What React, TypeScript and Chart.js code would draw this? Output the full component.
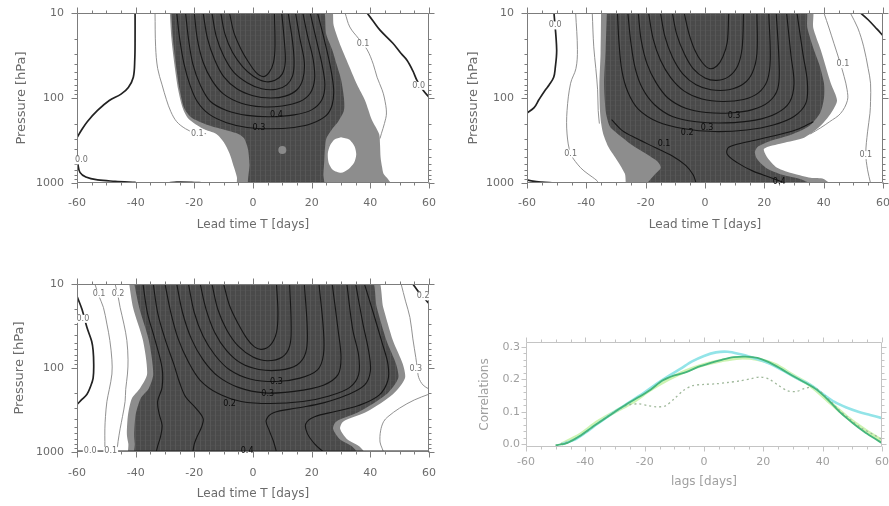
import React, { useEffect, useRef } from "react";
import { Chart, registerables } from "chart.js";

Chart.register(...registerables);

type Pt = [number, number];
type Lbl = [number, number, string, string];

// ---------------- axis ticks ----------------
const LEAD_TICKS = [-60, -40, -20, 0, 20, 40, 60];
const PRESSURE_TICKS = [10, 100, 1000];
const CORR_TICKS = [0, 0.1, 0.2, 0.3];

// ---------------- panel 1 (top left) : [lead time, pressure] ----------------
const P1_MEDIUM: Pt[] = [
  [-28.5, 8], [-27.8, 20], [-26.8, 40], [-25.5, 80], [-24, 130], [-22, 175], [-17, 230], [-12.5, 265], [-10, 330],
  [-8, 450], [-6.5, 650], [-5.5, 850], [-5, 1200], [48, 1200], [46, 900], [44.5, 780], [44, 650], [43.5, 500],
  [43.3, 350], [43, 265], [40.5, 180], [38.2, 107], [35.5, 70], [33, 44], [30, 25], [27.5, 14], [26.2, 8], [-28.5, 8],
];
const P1_DARK: Pt[] = [
  [-28, 8], [-27.3, 20], [-26.3, 40], [-25, 80], [-23.5, 130], [-21, 170], [-16, 205], [-10, 235], [-5, 265],
  [-3, 300], [-1.7, 400], [-1.2, 600], [-1, 1200], [24, 1200], [24, 800], [24.3, 550], [24.5, 400], [25, 300],
  [27.3, 224], [29, 190], [31, 140], [31, 100], [30, 60], [28.5, 40], [27, 27], [25, 18], [23, 8], [-28, 8],
];
const P1_HOLE: Pt[] = [
  [30, 290], [32.8, 308], [34.6, 370], [35.2, 460], [34.5, 575], [32.5, 690], [30, 760], [27.3, 705], [25.8, 580],
  [25.5, 450], [26.3, 360], [27.8, 308], [30, 290],
];
const P1_DOTS: Pt[] = [[10, 410]];
const P1_THICK: Pt[][] = [
  [[-40.2, 10], [-40.2, 20], [-40.3, 35], [-40.8, 57], [-42.5, 75], [-45, 90], [-49, 107], [-53, 140], [-56.5, 190], [-58.5, 240], [-60, 293]],
  [[-60, 480], [-59.7, 600], [-59, 750], [-57, 850], [-53, 920], [-47, 955], [-40, 985]],
  [[-29, 1000], [-26, 975], [-21, 980], [-17, 1000]],
  [[38.9, 10], [41, 12.5], [43.3, 15.9], [47.7, 22.7], [50.5, 30], [52.5, 36], [54.5, 48], [55.9, 62], [58, 81], [60, 98]],
];
const P1_THIN: Pt[][] = [
  [[-33.4, 10], [-33.2, 25], [-32.5, 45], [-31, 70], [-29.5, 105], [-28, 145], [-26, 190], [-23, 230], [-20, 255], [-16, 263]],
  [[31.4, 10], [33, 14.6], [36, 20], [38.9, 27], [41, 40], [42.3, 57], [44, 80], [44.8, 100], [45.5, 150], [44.8, 200], [43.8, 260], [43.3, 300]],
];
const P1_INNER: Pt[][] = [
  [[-26, 10], [-25, 20], [-23.5, 40], [-21.5, 70], [-19, 110], [-15, 155], [-9, 195], [-2, 222], [6, 230], [14, 222], [20, 200], [25, 160], [27, 120], [27.5, 80], [26.5, 45], [24.5, 22], [22, 10]],
  [[-23, 10], [-22, 20], [-20.5, 40], [-18, 70], [-14.5, 110], [-9, 140], [-2, 160], [6, 166], [14, 158], [20, 138], [23.5, 105], [24.5, 70], [23.5, 40], [21.5, 20], [19.5, 10]],
  [[-20, 10], [-19, 20], [-17, 38], [-14, 62], [-10, 90], [-4, 115], [3, 127], [10, 124], [16, 110], [19.5, 88], [21, 60], [20.5, 35], [18.5, 18], [17, 10]],
  [[-17, 10], [-15.5, 20], [-13, 36], [-10, 56], [-5.5, 78], [0, 94], [6, 100], [11, 95], [15, 80], [17, 60], [17.5, 38], [16, 20], [14.5, 10]],
  [[-14, 10], [-12.5, 19], [-10, 32], [-6.5, 50], [-2, 66], [3, 78], [8, 79], [11.5, 70], [13.5, 55], [14, 38], [13.5, 22], [12, 10]],
  [[-11, 10], [-9.5, 18], [-7, 29], [-3.5, 43], [0, 55], [4, 64], [7.5, 62], [10, 52], [11, 38], [10.8, 24], [9.8, 10]],
  [[-8, 10], [-6.5, 17], [-4, 27], [-1.5, 38], [1, 50], [3.5, 56], [5.5, 50], [7, 38], [7.5, 25], [7.3, 10]],
];
const P1_LABELS: Lbl[] = [
  [-19, 262, "0.1", "w"], [37.5, 23, "0.1", "w"], [56.5, 72, "0.0", "w"], [-58.5, 540, "0.0", "w"],
  [8, 160, "0.4", "d"], [2, 226, "0.3", "d"],
];

// ---------------- panel 2 (top right) ----------------
const P2_MEDIUM: Pt[] = [
  [-35, 8], [-35.2, 30], [-35.6, 70], [-35.4, 140], [-35, 200], [-34.3, 265], [-32.5, 380], [-29.5, 550], [-27, 780],
  [-25.8, 1200], [43.5, 1200], [40, 900], [35.6, 870], [30, 780], [24.3, 660], [21, 500], [19.9, 395], [26, 340],
  [33.4, 293], [38.5, 220], [42.4, 152], [44.5, 107], [42.4, 67], [39, 27], [36.5, 15], [35.6, 8], [-35, 8],
];
const P2_DARK: Pt[] = [
  [-33, 8], [-33.5, 27], [-34, 67], [-33.5, 141], [-32.5, 200], [-31.8, 224], [-28, 290], [-25, 350], [-20, 450],
  [-16, 560], [-14.9, 660], [-17, 800], [-20.6, 1200], [38, 1200], [33, 920], [26, 800], [20.5, 660], [17.5, 520],
  [16.8, 430], [18, 370], [22, 320], [29, 270], [35, 215], [38.8, 150], [40.1, 100], [40.1, 67], [38.5, 40],
  [36.7, 27], [34.5, 15], [33.4, 8], [-33, 8],
];
const P2_THICK: Pt[][] = [
  [[-50.9, 10], [-50, 27], [-50.5, 45], [-51, 57], [-52.5, 70], [-54, 82], [-56, 105], [-57.6, 130], [-60, 150]],
  [[-60, 920], [-58, 950], [-55, 975], [-51, 1000]],
  [[52.5, 10], [55, 12], [58, 15.5], [60, 18.5]],
];
const P2_THIN: Pt[][] = [
  [[-43.6, 10], [-43, 27], [-43.5, 45], [-45.3, 67], [-46.5, 141], [-46.5, 265], [-45.3, 450], [-43, 600], [-40.8, 720], [-38, 850], [-36.4, 940], [-36, 1000]],
  [[-38, 10], [-37.5, 25], [-36.8, 45], [-36.2, 80], [-36, 140], [-35.6, 200]],
  [[40.1, 10], [41.8, 15], [43.5, 23], [45.5, 38], [46.9, 56], [47.9, 80], [48, 107], [45.7, 152], [42, 190], [39, 224], [35.5, 265]],
  [[49, 10], [51.5, 15], [53.5, 25], [55, 45], [55.8, 67], [55.8, 110], [55.6, 152], [54.8, 250], [54.2, 450], [54.8, 700], [55.8, 1000]],
];
const P2_INNER: Pt[][] = [
  [[-7, 10], [-5.5, 17], [-3.5, 27], [-1, 38], [1.5, 45], [4, 42], [6, 33], [7.5, 22], [8, 10]],
  [[-11, 10], [-9.5, 18], [-7, 30], [-4, 45], [0, 58], [4, 62], [8, 56], [11, 42], [12.5, 26], [13, 10]],
  [[-15, 10], [-13.5, 19], [-11, 33], [-7.5, 52], [-3, 70], [2, 80], [8, 80], [13, 68], [16, 50], [17.5, 30], [17.5, 10]],
  [[-19, 10], [-17.5, 20], [-15, 36], [-11.5, 58], [-7, 83], [-1, 103], [6, 110], [13, 104], [18, 87], [21, 62], [22, 35], [21.5, 10]],
  [[-22.5, 10], [-21.5, 21], [-19.5, 40], [-16.5, 66], [-12.5, 100], [-6.5, 132], [0.5, 148], [8.5, 150], [16, 137], [21.5, 111], [24.5, 78], [25, 42], [24, 10]],
  [[-26, 10], [-25, 22], [-23.5, 45], [-21, 78], [-17, 120], [-11, 165], [-3, 190], [7, 196], [17, 182], [24, 152], [28.5, 112], [30, 68], [29, 32], [27.5, 10]],
  [[-29.5, 10], [-29, 22], [-28, 48], [-26, 85], [-22.5, 135], [-16, 190], [-7, 230], [3, 248], [14, 238], [23, 208], [30, 165], [34, 115], [34.5, 65], [33, 30], [31, 10]],
  [[-31.5, 180], [-28, 240], [-23, 300], [-17, 380], [-11, 480], [-6.5, 620], [-4, 800], [-3, 1000]],
  [[36.5, 190], [31, 235], [23, 280], [14, 330], [8, 380], [7.5, 460], [11, 580], [16, 720], [22, 860], [27, 1000]],
];
const P2_LABELS: Lbl[] = [
  [-45.3, 450, "0.1", "w"], [54.2, 470, "0.1", "w"], [46.5, 40, "0.1", "w"], [-50.5, 14, "0.0", "w"],
  [9.8, 161, "0.3", "d"], [0.7, 224, "0.3", "d"], [-6, 256, "0.2", "d"], [-13.8, 350, "0.1", "d"], [25, 960, "0.4", "d"],
];

// ---------------- panel 3 (bottom left) ----------------
const P3_MEDIUM: Pt[] = [
  [-42.6, 8], [-40.9, 19], [-37.5, 47], [-36.1, 118], [-38.5, 174], [-41.3, 230], [-42.6, 358], [-43, 620],
  [-42.5, 800], [-42, 1200], [38.9, 1200], [36.5, 870], [32, 700], [29.7, 530], [30.7, 435], [38.9, 330],
  [47.7, 205], [51.8, 132], [51.1, 90], [47.7, 47], [44.4, 19], [41.6, 8], [-42.6, 8],
];
const P3_DARK: Pt[] = [
  [-41, 8], [-38.8, 19], [-35.5, 47], [-34, 118], [-35.5, 174], [-38.3, 230], [-40, 358], [-40.5, 620],
  [-40.3, 800], [-40, 1200], [36.5, 1200], [34, 870], [29.5, 700], [27.3, 530], [28.3, 435], [36.3, 330],
  [45.5, 205], [49.5, 132], [48.8, 90], [45.5, 47], [42.2, 19], [39.5, 8], [-41, 8],
];
const P3_THICK: Pt[][] = [
  [[-60, 14], [-58.3, 20], [-56.6, 33], [-55, 48], [-54.5, 62], [-54.3, 90], [-54.5, 132], [-55.5, 170], [-56.6, 205], [-58.5, 240], [-60, 272]],
  [[54.5, 10], [56.5, 12.5], [58.5, 15], [60, 17]],
  [[-60, 985], [-45, 980], [-20, 984], [0, 980], [20, 985], [40, 980], [60, 984]],
];
const P3_THIN: Pt[][] = [
  [[-53.9, 10], [-52.5, 14], [-51, 19], [-49.8, 30], [-48.8, 47], [-48.1, 80], [-48.1, 118], [-49, 180], [-49.8, 250], [-50.3, 380], [-50.5, 530], [-50.5, 750], [-50.5, 1000]],
  [[-47, 10], [-46, 14], [-45.3, 19], [-44, 30], [-43, 47], [-42.6, 80], [-42.8, 118], [-43.4, 180], [-43.6, 250], [-44.5, 380], [-45.3, 530], [-46, 750], [-46.4, 1000]],
  [[50.5, 10], [52, 16], [53.5, 25], [54.5, 45], [55.5, 75], [56, 100], [56.5, 130], [58, 160], [60, 178]],
  [[60, 205], [55, 240], [50, 300], [46, 380], [44.5, 436], [43.5, 560], [43.3, 760], [44, 900], [44.5, 1000]],
];
const P3_INNER: Pt[][] = [
  [[-10, 10], [-8, 18], [-5, 30], [-2, 45], [0.5, 56], [3, 60], [6, 53], [8, 38], [8.5, 22], [8, 10]],
  [[-14, 10], [-12, 20], [-9, 35], [-5, 55], [0, 74], [5, 82], [10, 74], [12.5, 55], [13, 32], [12.5, 10]],
  [[-18, 10], [-16, 20], [-13, 38], [-9, 62], [-4, 88], [2, 104], [9, 106], [15, 92], [18, 65], [18.5, 35], [17.5, 10]],
  [[-22, 10], [-20, 22], [-17, 42], [-13, 70], [-8, 105], [-1, 135], [8, 145], [16, 132], [22, 105], [24, 70], [24, 35], [22.5, 10]],
  [[-26, 10], [-24, 22], [-21, 45], [-17, 80], [-12, 125], [-5, 170], [4, 198], [14, 190], [24, 160], [29, 120], [30, 75], [29, 35], [27, 10]],
  [[-30, 10], [-28, 22], [-25.5, 45], [-22, 85], [-18, 140], [-12, 200], [-4, 250], [6, 265], [17, 250], [26, 215], [33, 170], [36, 120], [36, 70], [34, 35], [32, 10]],
  [[-34, 10], [-32.5, 22], [-30, 45], [-27, 90], [-25, 150], [-23, 220], [-19.5, 300], [-17, 400], [-17.5, 500], [-19, 650], [-20, 800], [-20.5, 1000]],
  [[8, 1000], [7, 750], [5.5, 550], [4.5, 420], [7, 340], [15, 300], [24, 260], [32, 210], [38, 160], [40, 110], [39.5, 65], [37.5, 30], [35, 10]],
  [[-37.5, 10], [-36, 22], [-33.5, 45], [-31, 100], [-31, 170], [-32.5, 250], [-32, 350], [-31, 480], [-31.5, 650], [-32.5, 850], [-33, 1000]],
  [[24, 1000], [21, 800], [18.5, 600], [18, 460], [21, 380], [28, 330], [36, 280], [43, 210], [46, 140], [46, 90], [44, 50], [41, 22], [38, 10]],
];
const P3_LABELS: Lbl[] = [
  [55.5, 103, "0.3", "w"], [-58, 26, "0.0", "w"], [-52.5, 13, "0.1", "w"], [-46, 13, "0.2", "w"],
  [-55.5, 975, "0.0", "w"], [-48.5, 975, "0.1", "w"], [58, 14, "0.2", "w"],
  [8, 147, "0.3", "d"], [5, 205, "0.3", "d"], [-8, 270, "0.2", "d"], [-2, 960, "0.4", "d"],
];

// ---------------- panel 4 (bottom right) : correlation vs lag ----------------
const GREEN_LAGS = [-50, -46, -42, -38, -34, -30, -26, -22, -18, -14, -10, -6, -2, 2, 6, 10, 14, 18, 22, 26, 30, 34, 38, 42, 46, 50, 54, 57, 60];
const GREEN_CORR = [-0.004, 0.004, 0.024, 0.05, 0.075, 0.1, 0.124, 0.145, 0.168, 0.196, 0.212, 0.222, 0.238, 0.25, 0.26, 0.268, 0.27, 0.266, 0.252, 0.232, 0.21, 0.19, 0.168, 0.135, 0.097, 0.066, 0.038, 0.02, 0.003];
const CYAN_LAGS = [-48, -44, -40, -36, -32, -28, -24, -20, -16, -12, -8, -4, 0, 4, 8, 12, 16, 20, 24, 28, 32, 36, 40, 44, 48, 52, 56, 60];
const CYAN_CORR = [0.0, 0.012, 0.035, 0.062, 0.088, 0.112, 0.136, 0.16, 0.186, 0.21, 0.232, 0.255, 0.272, 0.283, 0.285, 0.278, 0.268, 0.256, 0.24, 0.22, 0.2, 0.182, 0.155, 0.13, 0.113, 0.1, 0.09, 0.08];
const DOTTED_LAGS = [-50, -45, -40, -35, -30, -26, -22, -19, -16, -13, -10, -7, -4, 0, 4, 8, 12, 16, 19, 22, 25, 28, 31, 34, 37, 41, 45, 49, 53, 57, 60];
const DOTTED_CORR = [-0.004, 0.01, 0.035, 0.07, 0.1, 0.12, 0.124, 0.119, 0.115, 0.118, 0.14, 0.165, 0.18, 0.184, 0.186, 0.19, 0.195, 0.202, 0.207, 0.2, 0.182, 0.165, 0.162, 0.172, 0.175, 0.148, 0.11, 0.078, 0.05, 0.03, 0.015];
const PALE_LAGS = [-48, -42, -36, -30, -24, -18, -12, -6, 0, 6, 12, 18, 24, 30, 36, 42, 48, 54, 60];
const PALE_CORR = [0.0, 0.028, 0.068, 0.1, 0.13, 0.168, 0.2, 0.226, 0.245, 0.258, 0.266, 0.262, 0.245, 0.212, 0.18, 0.132, 0.085, 0.045, 0.01];

// ---------------- styles ----------------
const FONT = "'DejaVu Sans', 'Liberation Sans', sans-serif";
const DARK_GRAY = "#4a4a4a";
const DARK_STRIPE = "#575757";
const MEDIUM_GRAY = "#8d8d8d";
const INNER_COLOR = "#161616";
const THICK_COLOR = "#222222";
const THIN_COLOR = "#858585";
const TEXT_DARK = "#6b6b6b";
const TEXT_LIGHT = "#a0a0a0";

const toXY = (pts: Pt[]) => pts.map(([x, y]) => ({ x, y }));
const zipXY = (xs: number[], ys: number[]) => xs.map((x, i) => ({ x, y: ys[i] }));

function darkFill(): any {
  const c = document.createElement("canvas");
  c.width = 5;
  c.height = 5;
  const g = c.getContext("2d");
  if (!g) return DARK_GRAY;
  g.fillStyle = DARK_GRAY;
  g.fillRect(0, 0, 5, 5);
  g.fillStyle = DARK_STRIPE;
  g.fillRect(0, 0, 1, 5);
  g.fillStyle = "#4f4f4f";
  g.fillRect(1, 0, 4, 1);
  return g.createPattern(c, "repeat") || DARK_GRAY;
}

// frame + outward tick marks built from each chart's own scales
const framePlugin: any = {
  id: "frame",
  afterDatasetsDraw(chart: any, _args: any, opts: any) {
    if (!opts || !opts.color) return;
    const { ctx, chartArea: a, scales } = chart;
    const L = Math.round(a.left) + 0.5;
    const R = Math.round(a.right) - 0.5;
    const T = Math.round(a.top) + 0.5;
    const B = Math.round(a.bottom) - 0.5;
    const xs = scales.x;
    const ys = scales.y;
    ctx.save();
    ctx.strokeStyle = opts.color;
    ctx.lineWidth = 1;
    ctx.beginPath();
    ctx.rect(L, T, R - L, B - T);
    const xTick = (v: number, len: number) => {
      const p = Math.round(xs.getPixelForValue(v)) + 0.5;
      ctx.moveTo(p, B);
      ctx.lineTo(p, B + len);
      ctx.moveTo(p, T);
      ctx.lineTo(p, T - len);
    };
    const yTick = (v: number, len: number) => {
      const p = Math.round(ys.getPixelForValue(v)) + 0.5;
      ctx.moveTo(L, p);
      ctx.lineTo(L - len, p);
      ctx.moveTo(R, p);
      ctx.lineTo(R + len, p);
    };
    const xv = xs.ticks.map((t: any) => t.value);
    const yv = ys.ticks.map((t: any) => t.value);
    xv.forEach((v: number) => xTick(v, opts.major));
    for (let i = 0; i < xv.length - 1; i++) {
      const st = (xv[i + 1] - xv[i]) / opts.xDiv;
      for (let k = 1; k < opts.xDiv; k++) xTick(xv[i] + k * st, opts.minor);
    }
    yv.forEach((v: number) => yTick(v, opts.major));
    for (let i = 0; i < yv.length - 1; i++) {
      if (opts.yLog) {
        for (let m = 2; m < 10; m++) yTick(yv[i] * m, opts.minor);
      } else {
        const st = (yv[i + 1] - yv[i]) / opts.yDiv;
        for (let k = 1; k < opts.yDiv; k++) yTick(yv[i] + k * st, opts.minor);
      }
    }
    ctx.stroke();
    ctx.restore();
  },
};
Chart.register(framePlugin);

// contour value labels, placed through the chart's scales
function labelPlugin(items: Lbl[]): any {
  return {
    id: "contourLabels",
    afterDatasetsDraw(chart: any) {
      const { ctx, scales } = chart;
      ctx.save();
      ctx.font = `8px ${FONT}`;
      ctx.textAlign = "center";
      ctx.textBaseline = "middle";
      for (const [vx, vy, text, tone] of items) {
        const px = scales.x.getPixelForValue(vx);
        const py = scales.y.getPixelForValue(vy);
        const w = ctx.measureText(text).width;
        if (tone === "w") {
          ctx.fillStyle = "#ffffff";
          ctx.fillRect(px - w / 2 - 1, py - 4, w + 2, 8);
          ctx.fillStyle = "#707070";
        } else {
          ctx.fillStyle = "#0c0c0c";
        }
        ctx.fillText(text, px, py);
      }
      ctx.restore();
    },
  };
}

type ContourSet = { medium: Pt[]; dark: Pt[]; holes: Pt[][]; dots: Pt[]; inner: Pt[][]; thick: Pt[][]; thin: Pt[][]; labels: Lbl[] };
type Layout = {
  left: number; top: number; width: number; height: number;
  padTop: number; padRight: number; yWidth: number; xHeight: number;
  xTickPad: number; yTickPad: number; xTitlePad: number; yTitlePad: number;
};

const PANEL1: ContourSet = { medium: P1_MEDIUM, dark: P1_DARK, holes: [P1_HOLE], dots: P1_DOTS, inner: P1_INNER, thick: P1_THICK, thin: P1_THIN, labels: P1_LABELS };
const PANEL2: ContourSet = { medium: P2_MEDIUM, dark: P2_DARK, holes: [], dots: [], inner: P2_INNER, thick: P2_THICK, thin: P2_THIN, labels: P2_LABELS };
const PANEL3: ContourSet = { medium: P3_MEDIUM, dark: P3_DARK, holes: [], dots: [], inner: P3_INNER, thick: P3_THICK, thin: P3_THIN, labels: P3_LABELS };

const LAYOUT1: Layout = { left: 0, top: 0, width: 445, height: 235, padTop: 13, padRight: 16, yWidth: 77, xHeight: 52, xTickPad: 14, yTickPad: 13, xTitlePad: 3, yTitlePad: 14 };
const LAYOUT2: Layout = { left: 445, top: 0, width: 444, height: 235, padTop: 13, padRight: 6, yWidth: 82, xHeight: 52, xTickPad: 14, yTickPad: 13, xTitlePad: 3, yTitlePad: 21 };
const LAYOUT3: Layout = { left: 0, top: 270, width: 445, height: 235, padTop: 14, padRight: 16, yWidth: 77, xHeight: 53, xTickPad: 15, yTickPad: 13, xTitlePad: 4, yTitlePad: 12 };
const LAYOUT4: Layout = { left: 445, top: 330, width: 444, height: 165, padTop: 12, padRight: 7, yWidth: 81, xHeight: 48, xTickPad: 9, yTickPad: 6, xTitlePad: 6, yTitlePad: 33 };

const areaDs = (pts: Pt[], color: any, order: number) => ({
  data: toXY(pts), borderColor: "rgba(0,0,0,0)", borderWidth: 0, backgroundColor: color,
  pointRadius: 0, fill: "shape", tension: 0.25, order,
});
const lineDs = (pts: Pt[], color: string, width: number, order: number, dash: number[] = []) => ({
  data: toXY(pts), borderColor: color, borderWidth: width, borderDash: dash, backgroundColor: color,
  pointRadius: 0, fill: false, tension: 0.35, order,
});

function xAxis(L: Layout, color: string, title: string, min: number, max: number, ticks: number[]) {
  return {
    type: "linear", position: "bottom", min, max,
    afterBuildTicks: (s: any) => { s.ticks = ticks.map((v) => ({ value: v })); },
    afterFit: (s: any) => { s.height = L.xHeight; s.paddingLeft = 0; s.paddingRight = 0; },
    grid: { display: false, drawTicks: false },
    border: { display: false },
    ticks: { color, font: { family: FONT, size: 11 }, padding: L.xTickPad, maxRotation: 0, minRotation: 0, autoSkip: false, callback: (v: any) => String(v) },
    title: { display: true, text: title, color, font: { family: FONT, size: 12 }, padding: { top: 0, bottom: L.xTitlePad } },
  };
}

function contourConfig(c: ContourSet, L: Layout): any {
  const datasets: any[] = [];
  datasets.push(areaDs(c.medium, MEDIUM_GRAY, 30));
  datasets.push(areaDs(c.dark, darkFill(), 20));
  c.holes.forEach((h) => datasets.push(areaDs(h, "#ffffff", 10)));
  c.dots.forEach((d) => datasets.push({ data: toXY([d]), showLine: false, pointRadius: 4, pointBackgroundColor: "#8a8a8a", pointBorderWidth: 0, order: 5 }));
  c.thin.forEach((l) => datasets.push(lineDs(l, THIN_COLOR, 0.9, 3)));
  c.thick.forEach((l) => datasets.push(lineDs(l, THICK_COLOR, 1.7, 2)));
  c.inner.forEach((l) => datasets.push(lineDs(l, INNER_COLOR, 1.1, 1)));
  return {
    type: "line",
    data: { datasets },
    plugins: [labelPlugin(c.labels)],
    options: {
      responsive: false, animation: false, events: [],
      layout: { padding: { top: L.padTop, right: L.padRight, left: 0, bottom: 0 } },
      plugins: {
        legend: { display: false }, tooltip: { enabled: false }, colors: { enabled: false },
        frame: { color: "#7c7c7c", major: 6, minor: 3, xDiv: 4, yLog: true },
      },
      scales: {
        x: xAxis(L, TEXT_DARK, "Lead time T [days]", -60, 60, LEAD_TICKS),
        y: {
          type: "logarithmic", position: "left", min: 10, max: 1000, reverse: true,
          afterBuildTicks: (s: any) => { s.ticks = PRESSURE_TICKS.map((v) => ({ value: v })); },
          afterFit: (s: any) => { s.width = L.yWidth; s.paddingTop = 0; s.paddingBottom = 0; },
          grid: { display: false, drawTicks: false },
          border: { display: false },
          ticks: { color: TEXT_DARK, font: { family: FONT, size: 11 }, padding: L.yTickPad, autoSkip: false, callback: (v: any) => String(v) },
          title: { display: true, text: "Pressure [hPa]", color: TEXT_DARK, font: { family: FONT, size: 13 }, padding: { top: L.yTitlePad, bottom: 0 } },
        },
      },
    },
  };
}

function corrConfig(L: Layout): any {
  return {
    type: "line",
    data: {
      datasets: [
        { data: zipXY(PALE_LAGS, PALE_CORR), borderColor: "rgba(200,242,170,0.9)", borderWidth: 3.5, pointRadius: 0, fill: false, tension: 0.3, order: 4 },
        { data: zipXY(CYAN_LAGS, CYAN_CORR), borderColor: "#93e4e8", borderWidth: 2.6, pointRadius: 0, fill: false, tension: 0.3, order: 3 },
        { data: zipXY(DOTTED_LAGS, DOTTED_CORR), borderColor: "#9fb89a", borderWidth: 1.3, borderDash: [2, 3], pointRadius: 0, fill: false, tension: 0.3, order: 2 },
        { data: zipXY(GREEN_LAGS, GREEN_CORR), borderColor: "#45b57b", borderWidth: 1.8, pointRadius: 0, fill: false, tension: 0.3, order: 1 },
      ],
    },
    options: {
      responsive: false, animation: false, events: [],
      layout: { padding: { top: L.padTop, right: L.padRight, left: 0, bottom: 0 } },
      plugins: {
        legend: { display: false }, tooltip: { enabled: false }, colors: { enabled: false },
        frame: { color: "#c4c4c4", major: 5, minor: 3, xDiv: 4, yDiv: 5, yLog: false },
      },
      scales: {
        x: xAxis(L, TEXT_LIGHT, "lags [days]", -60, 60, LEAD_TICKS),
        y: {
          type: "linear", position: "left", min: -0.009, max: 0.315,
          afterBuildTicks: (s: any) => { s.ticks = CORR_TICKS.map((v) => ({ value: v })); },
          afterFit: (s: any) => { s.width = L.yWidth; s.paddingTop = 0; s.paddingBottom = 0; },
          grid: { display: false, drawTicks: false },
          border: { display: false },
          ticks: { color: TEXT_LIGHT, font: { family: FONT, size: 11 }, padding: L.yTickPad, autoSkip: false, callback: (v: any) => Number(v).toFixed(1) },
          title: { display: true, text: "Correlations", color: TEXT_LIGHT, font: { family: FONT, size: 12 }, padding: { top: L.yTitlePad, bottom: 0 } },
        },
      },
    },
  };
}

function Panel({ layout, build }: { layout: Layout; build: () => any }) {
  const ref = useRef<HTMLCanvasElement | null>(null);
  useEffect(() => {
    if (!ref.current) return;
    const chart = new Chart(ref.current, build());
    return () => chart.destroy();
  }, []);
  return (
    <canvas
      ref={ref}
      width={layout.width}
      height={layout.height}
      style={{ position: "absolute", left: layout.left, top: layout.top, width: layout.width, height: layout.height }}
    />
  );
}

export default function App() {
  return (
    <div style={{ position: "absolute", left: 0, top: 0, width: 889, height: 506, background: "#ffffff", overflow: "hidden" }}>
      <Panel layout={LAYOUT1} build={() => contourConfig(PANEL1, LAYOUT1)} />
      <Panel layout={LAYOUT2} build={() => contourConfig(PANEL2, LAYOUT2)} />
      <Panel layout={LAYOUT3} build={() => contourConfig(PANEL3, LAYOUT3)} />
      <Panel layout={LAYOUT4} build={() => corrConfig(LAYOUT4)} />
    </div>
  );
}
